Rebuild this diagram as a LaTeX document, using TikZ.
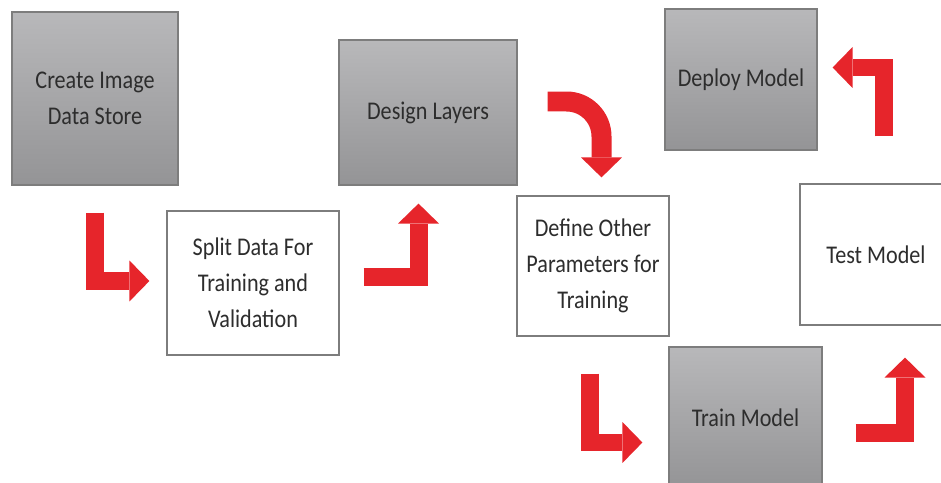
\documentclass[tikz,border=0pt]{standalone}
\usepackage{fontspec}
\setmainfont{Carlito}[FakeStretch=0.87]
\usetikzlibrary{calc,arrows.meta}
\definecolor{boxtop}{RGB}{184,184,186}
\definecolor{boxbottom}{RGB}{148,148,150}
\definecolor{boxline}{RGB}{125,125,125}
\definecolor{turnred}{RGB}{230,37,43}
\definecolor{labelgray}{RGB}{45,45,45}
\tikzstyle{stage}=[draw=boxline,line width=0.7pt,align=center,text=labelgray,font=\fontsize{14.5}{20.5}\selectfont,inner sep=0pt]
\tikzstyle{graystage}=[stage,top color=boxtop,bottom color=boxbottom]
\tikzstyle{whitestage}=[stage,fill=white]
\tikzstyle{turn}=[draw=turnred,line width=0.36cm,line join=miter,-{Triangle[width=0.82cm,length=0.4cm,line width=0pt]}]
\newcommand{\turnarrow}[5][|-]{% Syntax: [path op] {from}{offset}{to}{offset}
\draw[turn] ($(#2)+(#3)$) #1 ($(#4)+(#5)$);
}
\begin{document}
\begin{tikzpicture}[x=0.02cm,y=-0.02cm]
\useasboundingbox (0,0) rectangle (941,483);
% stages
\node[graystage,minimum width=3.32cm,minimum height=3.46cm] (create) at (95,98.5) {Create Image\\Data Store};
\node[whitestage,minimum width=3.44cm,minimum height=2.88cm] (split) at (253,283) {Split Data For\\Training and\\Validation};
\node[graystage,minimum width=3.56cm,minimum height=2.9cm] (design) at (428,112.5) {Design Layers};
\node[whitestage,minimum width=3.04cm,minimum height=2.8cm] (define) at (593,266) {Define Other\\Parameters for\\Training};
\node[graystage,minimum width=3.06cm,minimum height=2.82cm] (train) at (745.5,417.5) {Train Model};
\node[whitestage,minimum width=3.04cm,minimum height=2.82cm] (test) at (876,254.5) {Test Model};
\node[graystage,minimum width=3.04cm,minimum height=2.82cm] (deploy) at (741,79.5) {Deploy Model};
% turning arrows
\turnarrow{create.south}{0,27}{split.west}{-17,-2}
\turnarrow[-|]{split.east}{24,-6}{design.south}{-9.5,18}
\draw[turn,line width=0.4cm,rounded corners=0.7cm] ($(design.east)+(30,-11)$) -| ($(define.north)+(8.5,-18)$);
\turnarrow{define.south}{-3.5,37}{train.west}{-26,25}
\turnarrow[-|]{train.east}{33,15.5}{test.south}{29,32}
\turnarrow{test.north}{8,-47}{deploy.east}{15,-12}
\end{tikzpicture}
\end{document}
